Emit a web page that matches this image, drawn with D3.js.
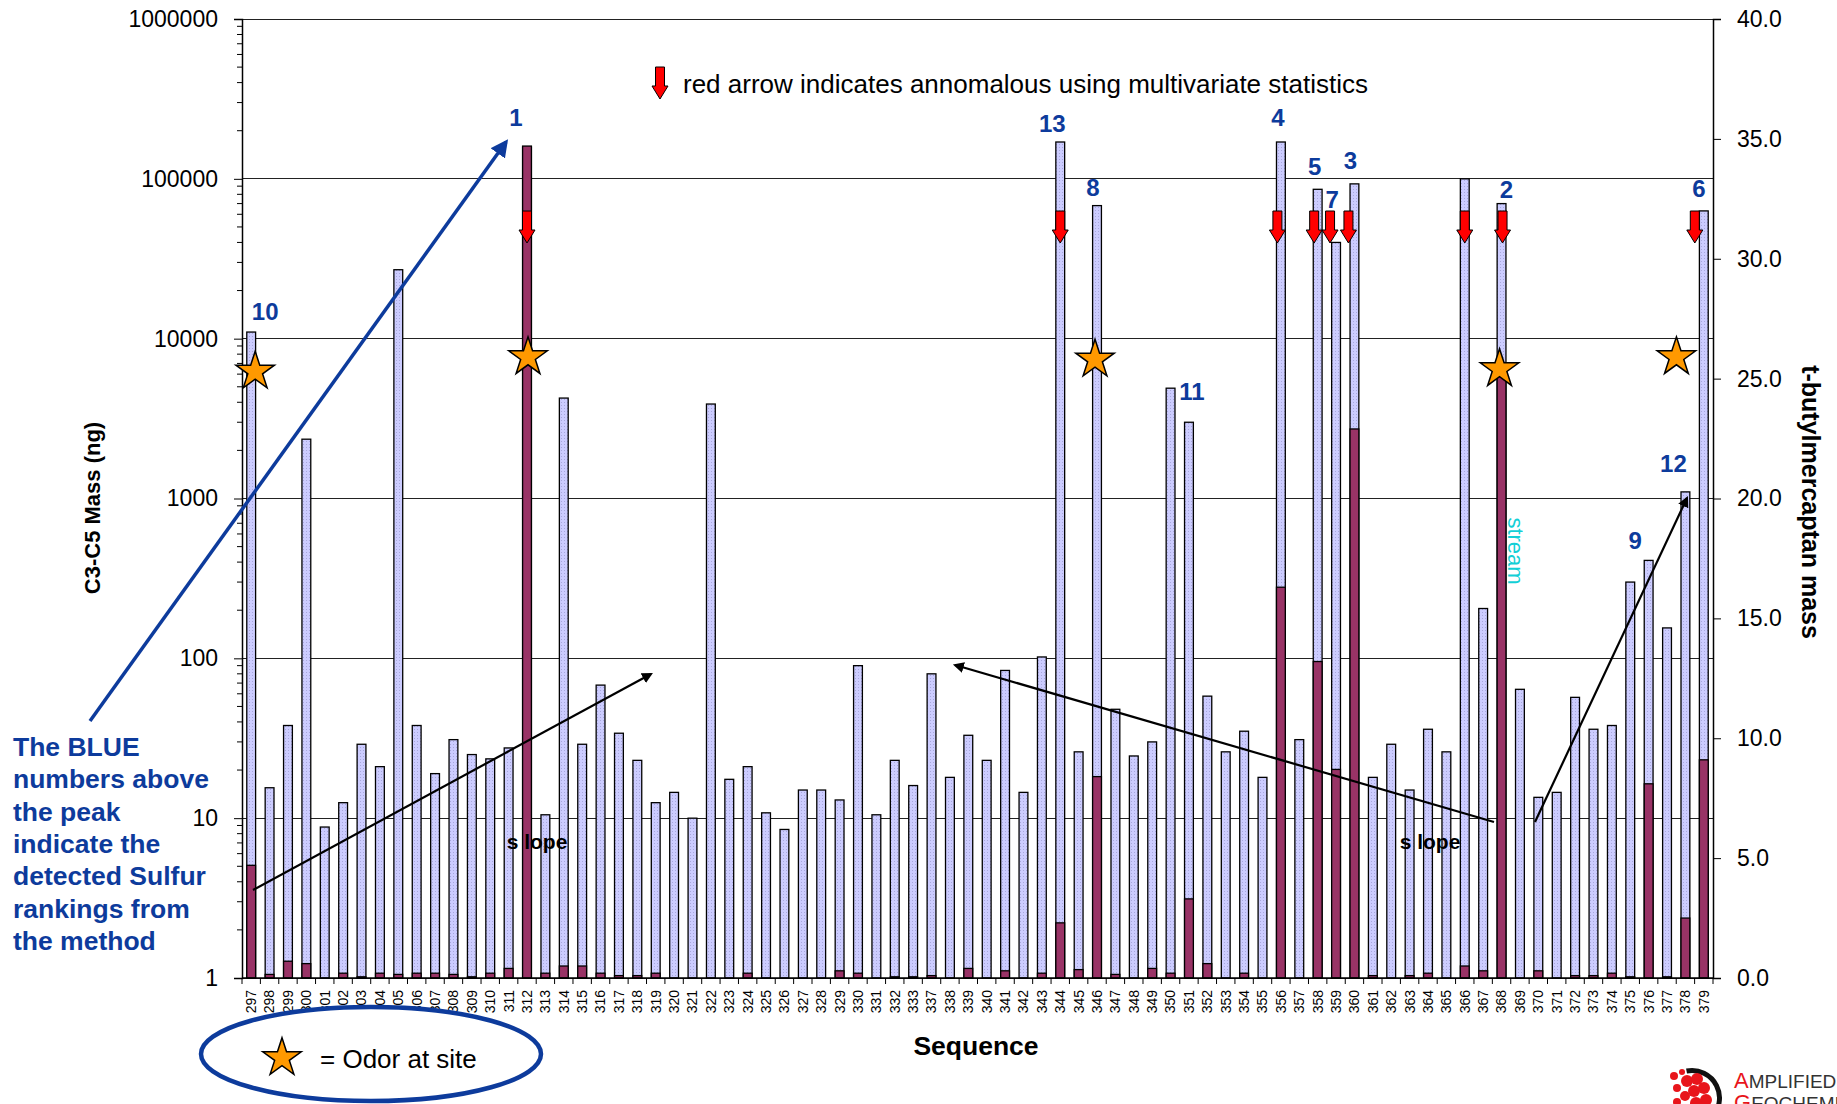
<!DOCTYPE html>
<html>
<head>
<meta charset="utf-8">
<script src="https://cdn.jsdelivr.net/npm/d3@7"></script>
<style>
  body { margin: 0; background: #fff; }
  svg { display: block; font-family: "Liberation Sans", Arial, sans-serif; }
</style>
</head>
<body>
<svg id="chart" width="1837" height="1104"></svg>
<script>
// sample sequence numbers (334-336 are absent in the survey)
const sequences = ['297','298','299','300','301','302','303','304','305','306','307','308','309','310',
  '311','312','313','314','315','316','317','318','319','320','321','322','323','324','325','326','327',
  '328','329','330','331','332','333','337','338','339','340','341','342','343','344','345','346','347',
  '348','349','350','351','352','353','354','355','356','357','358','359','360','361','362','363','364',
  '365','366','367','368','369','370','371','372','373','374','375','376','377','378','379'];

// C3-C5 mass (ng), left log axis
const c3c5Mass = [11000, 15.5, 38, 2350, 8.8, 12.5, 29, 21, 27000, 38, 19, 31, 25, 23.5,
  27.5, 158000, 10.5, 4250, 29, 68, 34, 23, 12.5, 14.5, 10, 3900, 17.5, 21, 10.8, 8.5, 15,
  15, 13, 90, 10.5, 23, 16, 80, 18, 33, 23, 84, 14.5, 102, 170000, 26, 68000, 48,
  24.5, 30, 4900, 3000, 58, 26, 35, 18, 170000, 31, 86000, 40000, 93000, 18, 29, 15, 36,
  26, 100000, 205, 70000, 64, 13.5, 14.5, 57, 36, 38, 300, 410, 155, 1100, 63000];

// t-butylmercaptan mass, right linear axis
const butylMercaptan = [4.7, 0.15, 0.7, 0.6, 0, 0.2, 0.05, 0.2, 0.15, 0.2, 0.2, 0.15, 0.05, 0.2,
  0.4, 34.7, 0.2, 0.5, 0.5, 0.2, 0.1, 0.1, 0.2, 0, 0, 0, 0, 0.2, 0, 0, 0,
  0, 0.3, 0.2, 0, 0.05, 0.05, 0.1, 0, 0.4, 0, 0.3, 0, 0.2, 2.3, 0.35, 8.4, 0.15,
  0, 0.4, 0.2, 3.3, 0.6, 0, 0.2, 0, 16.3, 0, 13.2, 8.7, 22.9, 0.1, 0, 0.1, 0.2,
  0, 0.5, 0.3, 25.2, 0, 0.3, 0, 0.1, 0.1, 0.2, 0.05, 8.1, 0.05, 2.5, 9.1];

const leftTicks = [1, 10, 100, 1000, 10000, 100000, 1000000];
const rightTicks = [0, 5, 10, 15, 20, 25, 30, 35, 40];

// sulfur ranking labels (blue numbers) above peaks
const rankSeq = ['297','312','344','346','351','356','358','359','360','368','379','378','376'];
const rankNum = ['10','1','13','8','11','4','5','7','3','2','6','12','9'];

// anomalous samples (red arrows) and odor sites (stars)
const anomalousSeq = ['312','344','356','358','359','360','366','368','379'];
const odorSeq = ['297','312','346','368','378'];

const noteLines = ['The BLUE', 'numbers above', 'the peak', 'indicate the', 'detected Sulfur', 'rankings from', 'the method'];

const plot = { left: 242, right: 1713, top: 19, bottom: 978 };
const blue = '#0d3b9c';

const svg = d3.select('#chart');
const defs = svg.append('defs');

const pat = defs.append('pattern').attr('id', 'lav')
  .attr('width', 3).attr('height', 3).attr('patternUnits', 'userSpaceOnUse');
pat.append('rect').attr('width', 3).attr('height', 3).attr('fill', '#ccccff');
pat.append('rect').attr('width', 1).attr('height', 1).attr('fill', '#a8a8dc');

function marker(id, color) {
  defs.append('marker').attr('id', id).attr('viewBox', '0 0 10 10')
    .attr('refX', 8).attr('refY', 5).attr('markerWidth', 5).attr('markerHeight', 5)
    .attr('orient', 'auto')
    .append('path').attr('d', 'M0,0L10,5L0,10z').attr('fill', color);
}
marker('headBlue', blue);
marker('headBlack', '#000');

const x = d3.scaleBand().domain(sequences).range([plot.left, plot.right])
  .paddingInner(0.52).paddingOuter(0.26);
const cx = s => x(s) + x.bandwidth() / 2;
const yL = d3.scaleLog().domain([1, 1e6]).range([plot.bottom, plot.top]);
const yR = d3.scaleLinear().domain([0, 40]).range([plot.bottom, plot.top]);

// gridlines
svg.append('g').selectAll('line').data(leftTicks).join('line')
  .attr('x1', plot.left).attr('x2', plot.right)
  .attr('y1', d => yL(d)).attr('y2', d => yL(d))
  .attr('stroke', '#222').attr('stroke-width', 1).attr('shape-rendering', 'crispEdges');

// C3-C5 bars
svg.append('g').selectAll('rect').data(sequences).join('rect')
  .attr('x', d => x(d)).attr('width', x.bandwidth())
  .attr('y', (d, i) => yL(c3c5Mass[i]))
  .attr('height', (d, i) => yL(1) - yL(c3c5Mass[i]))
  .attr('fill', 'url(#lav)').attr('stroke', '#000').attr('stroke-width', 1.3);

// mercaptan bars
svg.append('g').selectAll('rect').data(sequences.filter((d, i) => butylMercaptan[i] > 0)).join('rect')
  .attr('x', d => x(d)).attr('width', x.bandwidth())
  .attr('y', d => yR(butylMercaptan[sequences.indexOf(d)]))
  .attr('height', d => yR(0) - yR(butylMercaptan[sequences.indexOf(d)]))
  .attr('fill', '#993366').attr('stroke', '#000').attr('stroke-width', 1.3);

// left axis
const axL = svg.append('g').attr('transform', `translate(${plot.left},0)`)
  .call(d3.axisLeft(yL).tickValues(leftTicks).tickFormat(d3.format('d')).tickSize(8).tickPadding(16));
const minor = [];
leftTicks.slice(0, -1).forEach(d => { for (let k = 2; k < 10; k++) minor.push(d * k); });
axL.selectAll('.minor').data(minor).join('line').attr('class', 'minor')
  .attr('x1', -5).attr('x2', 0).attr('y1', d => yL(d)).attr('y2', d => yL(d)).attr('stroke', '#000');

// right axis
const axR = svg.append('g').attr('transform', `translate(${plot.right},0)`)
  .call(d3.axisRight(yR).tickValues(rightTicks).tickFormat(d3.format('.1f')).tickSize(8).tickPadding(16));

[axL, axR].forEach(a => {
  a.select('.domain').attr('stroke', '#000').attr('stroke-width', 1.5);
  a.selectAll('.tick line').attr('stroke', '#000');
  a.selectAll('.tick text').attr('font-size', 23).attr('font-family', '"Liberation Sans", Arial, sans-serif')
    .attr('fill', '#000');
});

// x axis
const xg = svg.append('g');
xg.append('line').attr('x1', plot.left).attr('x2', plot.right)
  .attr('y1', plot.bottom).attr('y2', plot.bottom).attr('stroke', '#000').attr('stroke-width', 1.5);
xg.selectAll('.xt').data(d3.range(sequences.length + 1)).join('line').attr('class', 'xt')
  .attr('x1', i => plot.left + i * x.step()).attr('x2', i => plot.left + i * x.step())
  .attr('y1', plot.bottom).attr('y2', plot.bottom + 6).attr('stroke', '#000');
xg.selectAll('text').data(sequences).join('text')
  .attr('transform', d => `translate(${cx(d)},${plot.bottom + 12}) rotate(-90)`)
  .attr('text-anchor', 'end').attr('dy', '0.35em')
  .attr('font-size', 14).text(d => d);

// axis titles
svg.append('text').attr('transform', 'translate(100,508) rotate(-90)')
  .attr('text-anchor', 'middle').attr('font-size', 22).attr('font-weight', 'bold').text('C3-C5 Mass (ng)');
svg.append('text').attr('transform', 'translate(1802,502) rotate(90)')
  .attr('text-anchor', 'middle').attr('font-size', 25).attr('font-weight', 'bold').text('t-butylmercaptan mass');
svg.append('text').attr('x', 976).attr('y', 1055)
  .attr('text-anchor', 'middle').attr('font-size', 26.5).attr('font-weight', 'bold').text('Sequence');

// red arrows
function redArrow(g) {
  g.append('path').attr('d', 'M-4.5,0H4.5V19H8L0,32L-8,19H-4.5Z')
    .attr('fill', '#ff0000').attr('stroke', '#000').attr('stroke-width', 1);
}
const arrowDx = { '312': 0, '344': 0, '356': -3.5, '358': -3.5, '359': -6, '360': -6, '366': 0, '368': 1, '379': -9 };
svg.append('g').selectAll('g').data(anomalousSeq).join('g')
  .attr('transform', d => `translate(${cx(d) + arrowDx[d]},211)`).each(function () { redArrow(d3.select(this)); });
const leg = svg.append('g').attr('transform', 'translate(660,67)');
redArrow(leg);
svg.append('text').attr('x', 683).attr('y', 93).attr('font-size', 26)
  .text('red arrow indicates annomalous using multivariate statistics');

// ranking numbers
const rankDy = { '297': -12, '312': -21, '344': -9.5, '346': -9.5, '351': -22, '356': -15.5, '358': -14,
  '359': -34, '360': -15, '368': -6, '379': -14, '378': -20, '376': -11 };
const rankDx = { '297': 14, '312': -11, '344': -8, '346': -4, '351': 3, '356': -3, '358': -3,
  '359': -4, '360': -4, '368': 5, '379': -5, '378': -12, '376': -13.5 };
svg.append('g').selectAll('text').data(rankSeq).join('text')
  .attr('x', d => cx(d) + rankDx[d])
  .attr('y', d => yL(c3c5Mass[sequences.indexOf(d)]) + rankDy[d])
  .attr('text-anchor', 'middle').attr('font-size', 24).attr('font-weight', 'bold')
  .attr('fill', blue).text((d, i) => rankNum[i]);

// annotation arrows
svg.append('line').attr('x1', 90).attr('y1', 721).attr('x2', 506).attr('y2', 142)
  .attr('stroke', blue).attr('stroke-width', 3.5).attr('marker-end', 'url(#headBlue)');
const slopeArrows = [[253, 890, 651, 674], [1494, 822, 955, 665], [1535, 822, 1687, 498]];
svg.append('g').selectAll('line').data(slopeArrows).join('line')
  .attr('x1', d => d[0]).attr('y1', d => d[1]).attr('x2', d => d[2]).attr('y2', d => d[3])
  .attr('stroke', '#000').attr('stroke-width', 2.2).attr('marker-end', 'url(#headBlack)');
svg.append('g').selectAll('text').data([537, 1430]).join('text')
  .attr('x', d => d).attr('y', 849).attr('text-anchor', 'middle')
  .attr('font-size', 21).attr('font-weight', 'bold').text('s lope');
svg.append('text').attr('transform', 'translate(1508,551) rotate(90)')
  .attr('text-anchor', 'middle').attr('font-size', 22).attr('fill', '#13cfd6').text('stream');

// odor stars
const star = d3.symbol().type(d3.symbolStar).size(460)();
const starDx = { '297': 4, '312': 1, '346': -2, '368': -2, '378': -9 };
const starY = { '297': 25.3, '312': 25.9, '346': 25.8, '368': 25.4, '378': 25.9 };
svg.append('g').selectAll('path').data(odorSeq).join('path')
  .attr('transform', d => `translate(${cx(d) + starDx[d]},${yR(starY[d])})`)
  .attr('d', star).attr('fill', '#ff9900').attr('stroke', '#000').attr('stroke-width', 1.5);

// left note
svg.append('g').selectAll('text').data(noteLines).join('text')
  .attr('x', 13).attr('y', (d, i) => 756 + i * 32.3)
  .attr('font-size', 26.5).attr('font-weight', 'bold').attr('fill', blue).text(d => d);

// odor legend
svg.append('ellipse').attr('cx', 371).attr('cy', 1054).attr('rx', 170).attr('ry', 47)
  .attr('fill', '#fff').attr('stroke', blue).attr('stroke-width', 4.5);
svg.append('path').attr('transform', 'translate(282,1058)').attr('d', star)
  .attr('fill', '#ff9900').attr('stroke', '#000').attr('stroke-width', 1.5);
svg.append('text').attr('x', 320).attr('y', 1068).attr('font-size', 26).text('= Odor at site');

// logo (cut off at the corner)
const logo = svg.append('g').attr('transform', 'translate(1692,1098)');
logo.append('path').attr('d', d3.arc()({ innerRadius: 25, outerRadius: 30, startAngle: -0.2, endAngle: 2.4 }))
  .attr('fill', '#111');
[[-18,-22,4],[-10,-26,3],[-5,-17,6],[5,-19,6],[-15,-10,4],[2,-7,6],[12,-10,6],[-7,-2,5],[14,2,6],[4,5,6],[-15,4,4]]
  .forEach(c => logo.append('circle').attr('cx', c[0]).attr('cy', c[1]).attr('r', c[2]).attr('fill', '#e8151b'));
const l1 = svg.append('text').attr('x', 1734).attr('y', 1088).attr('font-size', 19).attr('fill', '#333');
l1.append('tspan').attr('fill', '#e8151b').attr('font-size', 22).text('A');
l1.append('tspan').text('MPLIFIED');
const l2 = svg.append('text').attr('x', 1734).attr('y', 1110).attr('font-size', 19).attr('fill', '#333');
l2.append('tspan').attr('fill', '#e8151b').attr('font-size', 22).text('G');
l2.append('tspan').text('EOCHEMICAL');
</script>
</body>
</html>
